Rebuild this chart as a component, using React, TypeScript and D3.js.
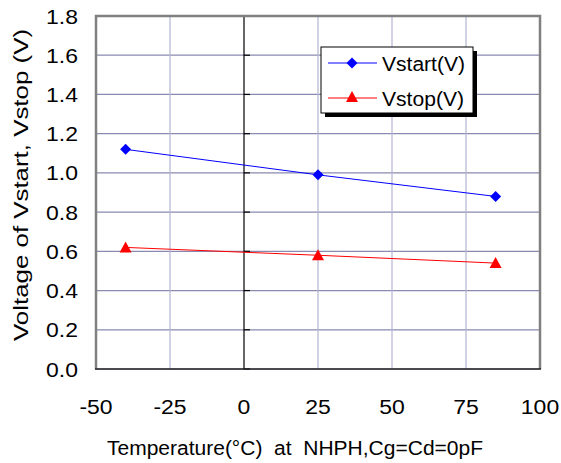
import React from "react";
import * as d3 from "d3";

const temps = [-40, 25, 85];
const vstart = [1.12, 0.99, 0.88];
const vstop = [0.62, 0.58, 0.54];
const xTicks = [-50, -25, 0, 25, 50, 75, 100];
const yTicks = [0, 0.2, 0.4, 0.6, 0.8, 1.0, 1.2, 1.4, 1.6, 1.8];
const seriesNames = ["Vstart(V)", "Vstop(V)"];
const xTitle = "Temperature(°C)  at  NHPH,Cg=Cd=0pF";
const yTitle = "Voltage of Vstart, Vstop (V)";

const W = 561, H = 463;
const L = 96, R = 540, T = 16, B = 369;
const FONT = "'Liberation Sans', Arial, sans-serif";

export default function App() {
  const x = d3.scaleLinear().domain([-50, 100]).range([L, R]);
  const y = d3.scaleLinear().domain([0, 1.8]).range([B, T]);
  const line = d3.line<[number, number]>().x(d => x(d[0])).y(d => y(d[1]));
  const startPts: [number, number][] = temps.map((t, i) => [t, vstart[i]]);
  const stopPts: [number, number][] = temps.map((t, i) => [t, vstop[i]]);
  const dia = (cx: number, cy: number) => `M${cx},${cy - 5.5}L${cx + 5.5},${cy}L${cx},${cy + 5.5}L${cx - 5.5},${cy}Z`;
  const tri = (cx: number, cy: number) => `M${cx},${cy - 6}L${cx + 6},${cy + 5}L${cx - 6},${cy + 5}Z`;

  return (
    <svg width={W} height={H} style={{ position: "absolute", left: 0, top: 0, background: "#fff" }} fontFamily={FONT}>
      <rect x={0} y={0} width={W} height={H} fill="#fff" />
      {/* horizontal grid */}
      {yTicks.map(t => (
        <line key={"h" + t} x1={L} x2={R} y1={y(t)} y2={y(t)} stroke="#8a8ab0" strokeWidth={1.2} />
      ))}
      {/* vertical grid */}
      {xTicks.filter(t => t !== 0).map(t => (
        <line key={"v" + t} x1={x(t)} x2={x(t)} y1={T} y2={B} stroke="#b4b4d4" strokeWidth={1.2} />
      ))}
      {/* y axis at x=0 */}
      <line x1={x(0)} x2={x(0)} y1={T} y2={B} stroke="#000" strokeWidth={1.2} />
      {yTicks.map(t => (
        <line key={"yt" + t} x1={x(0)} x2={x(0) + 6} y1={y(t)} y2={y(t)} stroke="#000" strokeWidth={1.2} />
      ))}
      {/* border */}
      <path d={`M${L},${B}V${T}H${R}V${B}`} fill="none" stroke="#808080" strokeWidth={2.5} />
      <line x1={L - 1} x2={R + 1} y1={B} y2={B} stroke="#222" strokeWidth={1.5} />

      {/* series */}
      <path d={line(startPts)!} fill="none" stroke="#0000ff" strokeWidth={1} />
      <path d={line(stopPts)!} fill="none" stroke="#ff0000" strokeWidth={1} />
      {startPts.map((p, i) => (
        <path key={"d" + i} d={dia(x(p[0]), y(p[1]))} fill="#0000ff" />
      ))}
      {stopPts.map((p, i) => (
        <path key={"t" + i} d={tri(x(p[0]), y(p[1]))} fill="#ff0000" />
      ))}

      {/* y tick labels */}
      {yTicks.map(t => (
        <text key={"yl" + t} transform={`translate(78,${y(t) + 7.5}) scale(1.12,1)`} textAnchor="end" fontSize={20.5} fill="#000">
          {t.toFixed(1)}
        </text>
      ))}
      {/* x tick labels */}
      {xTicks.map(t => (
        <text key={"xl" + t} transform={`translate(${x(t)},${414}) scale(1.12,1)`} textAnchor="middle" fontSize={20.5} fill="#000">
          {t}
        </text>
      ))}
      {/* titles */}
      <text x={295} y={455} textAnchor="middle" fontSize={19.5} textLength={376} lengthAdjust="spacingAndGlyphs" style={{ whiteSpace: "pre" }}>
        {xTitle}
      </text>
      <text transform={`translate(28,185) rotate(-90)`} textAnchor="middle" fontSize={20.5} textLength={312} lengthAdjust="spacingAndGlyphs">
        {yTitle}
      </text>

      {/* legend */}
      <rect x={325} y={51} width={152} height={66} fill="#000" />
      <rect x={321} y={47} width={152} height={66} fill="#fff" stroke="#000" strokeWidth={1} />
      <line x1={328} x2={377} y1={63} y2={63} stroke="#0000ff" strokeWidth={1} />
      <path d={dia(352, 63)} fill="#0000ff" />
      <text x={382} y={70.5} fontSize={20} textLength={83} lengthAdjust="spacingAndGlyphs">{seriesNames[0]}</text>
      <line x1={328} x2={377} y1={98} y2={98} stroke="#ff0000" strokeWidth={1} />
      <path d={tri(352, 97)} fill="#ff0000" />
      <text x={382} y={105.5} fontSize={20} textLength={82} lengthAdjust="spacingAndGlyphs">{seriesNames[1]}</text>
    </svg>
  );
}
